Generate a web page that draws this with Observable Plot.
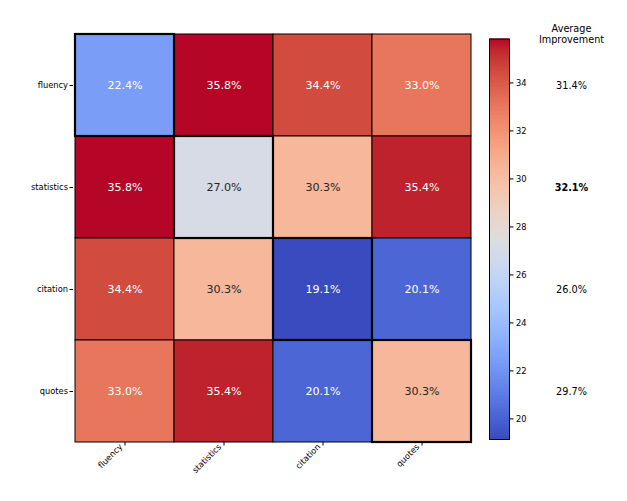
<!DOCTYPE html>
<html><head><meta charset="utf-8">
<script src="https://cdn.jsdelivr.net/npm/d3@7"></script>
<script src="https://cdn.jsdelivr.net/npm/@observablehq/plot@0.6"></script>
<style>
body{margin:0;background:#fff;}
#wrap{position:relative;width:627px;height:501px;font-family:"DejaVu Sans",sans-serif;}
#wrap svg{position:absolute;top:0;left:0;overflow:visible;}
</style></head><body><div id="wrap"></div>
<script>
const rows = ["fluency", "statistics", "citation", "quotes"];
const cols = ["fluency", "statistics", "citation", "quotes"];
const values = [
  [22.4, 35.8, 34.4, 33.0],
  [35.8, 27.0, 30.3, 35.4],
  [34.4, 30.3, 19.1, 20.1],
  [33.0, 35.4, 20.1, 30.3]
];
const avgImprovement = [31.4, 32.1, 26.0, 29.7];
const colorbarTicks = [20, 22, 24, 26, 28, 30, 32, 34];
const colorDomain = [19.14, 35.83];

// matplotlib "coolwarm" colormap stops (style)
const cwStops = [
[0.2298057,0.298717966,0.753683153],[0.26623388,0.353094838,0.801466763],[0.30386891,0.406535296,0.84495867],
[0.342804478,0.458757618,0.883725899],[0.38301334,0.50941904,0.917387822],[0.424369608,0.558148092,0.945619588],
[0.46666708,0.604562568,0.968154911],[0.509635204,0.648280772,0.98478814],[0.552953156,0.688929332,0.995375608],
[0.596262162,0.726149107,0.999836203],[0.639176211,0.759599947,0.998151185],[0.681291281,0.788964712,0.990363227],
[0.722193294,0.813952739,0.976574709],[0.761464949,0.834302879,0.956945269],[0.798691636,0.849786142,0.931688648],
[0.833466556,0.860207984,0.901068838],[0.865395197,0.86541021,0.865395561],[0.897787179,0.848937047,0.820880546],
[0.924127593,0.827384882,0.774508472],[0.944468518,0.800927443,0.726736146],[0.958852946,0.769767752,0.678007945],
[0.96732803,0.734132809,0.628751763],[0.969954137,0.694266682,0.579375448],[0.966811177,0.650421156,0.530263762],
[0.958003065,0.602842431,0.481775914],[0.943660866,0.551750968,0.434243684],[0.923944917,0.49730856,0.387970225],
[0.89904617,0.439559467,0.343229596],[0.869186849,0.378313092,0.300267182],[0.834620542,0.312874446,0.259301199],
[0.795631745,0.24128379,0.220525627],[0.752534934,0.157246067,0.184115123],[0.705673158,0.01555616,0.150232812]
];
const coolwarm = d3.piecewise(d3.interpolateRgb, cwStops.map(s => d3.rgb(s[0]*255, s[1]*255, s[2]*255).formatHex()));
const colorOpts = {type: "linear", domain: colorDomain, interpolate: coolwarm};

const cells = [];
rows.forEach((r, i) => cols.forEach((c, j) => cells.push({row: r, col: c, value: values[i][j], diag: i === j})));
const tOf = v => (v - colorDomain[0]) / (colorDomain[1] - colorDomain[0]);
const isLight = d => Math.abs(tOf(d.value) - 0.5) < 0.25;
const fmt = d => d.value.toFixed(1) + "%";

const wrap = document.getElementById("wrap");
const font = {fontFamily: "'DejaVu Sans', sans-serif", fontSize: "8.3px", color: "#000", background: "transparent", overflow: "visible"};

const main = Plot.plot({
  width: 627, height: 501,
  marginLeft: 73, marginRight: 155, marginTop: 34, marginBottom: 59,
  x: {type: "band", domain: cols, padding: 0, label: null},
  y: {type: "band", domain: rows, padding: 0, label: null},
  color: colorOpts,
  style: font,
  marks: [
    Plot.cell(cells, {x: "col", y: "row", fill: "value", stroke: "#000", strokeWidth: 1}),
    Plot.cell(cells.filter(d => d.diag), {x: "col", y: "row", fill: "none", stroke: "#000", strokeWidth: 2.2}),
    Plot.text(cells.filter(d => !isLight(d)), {x: "col", y: "row", text: fmt, fill: "white", fontSize: 11.1}),
    Plot.text(cells.filter(isLight), {x: "col", y: "row", text: fmt, fill: "#262626", fontSize: 11.1}),
    Plot.axisY({tickSize: 3.5, tickPadding: 2, fontSize: 8.3, label: null}),
    Plot.axisX({tickSize: 3.5, label: null, text: null}),
    Plot.axisX({tickSize: 0, tickPadding: 4, tickRotate: -45, fontSize: 8.3, label: null, dx: -4, dy: -1})
  ]
});
wrap.appendChild(main);

const nSteps = 300;
const stepSize = (colorDomain[1] - colorDomain[0]) / nSteps;
const cbVals = d3.range(nSteps).map(i => colorDomain[0] + i * stepSize);
const cb = Plot.plot({
  width: 560, height: 501,
  marginLeft: 489, marginRight: 51, marginTop: 38.5, marginBottom: 62,
  x: {domain: [0, 1], axis: null},
  y: {domain: colorDomain, label: null},
  color: colorOpts,
  style: font,
  marks: [
    Plot.rect(cbVals, {x1: 0, x2: 1, y1: d => d, y2: d => Math.min(d + stepSize * 1.6, colorDomain[1]), fill: d => d}),
    Plot.frame({stroke: "#000", strokeWidth: 1}),
    Plot.axisY({anchor: "right", ticks: colorbarTicks, tickSize: 3.5, tickPadding: 3, fontSize: 8.3, label: null, tickFormat: d => String(d)})
  ]
});
wrap.appendChild(cb);

const avgData = rows.map((r, i) => ({row: r, value: avgImprovement[i]}));
const maxAvg = d3.max(avgImprovement);
const avg = Plot.plot({
  width: 627, height: 501,
  marginLeft: 521, marginRight: 6, marginTop: 34, marginBottom: 59,
  y: {type: "band", domain: rows, padding: 0, axis: null},
  style: font,
  marks: [
    Plot.text(avgData.filter(d => d.value !== maxAvg), {y: "row", text: fmt, frameAnchor: "middle", fontSize: 9.7, fill: "#000"}),
    Plot.text(avgData.filter(d => d.value === maxAvg), {y: "row", text: fmt, frameAnchor: "middle", fontSize: 9.7, fontWeight: "bold", fill: "#000"}),
    Plot.text(["Average\nImprovement"], {frameAnchor: "top", lineAnchor: "middle", dy: -0.5, lineHeight: 1.15, fontSize: 9.7, fill: "#000"})
  ]
});
wrap.appendChild(avg);
</script></body></html>
